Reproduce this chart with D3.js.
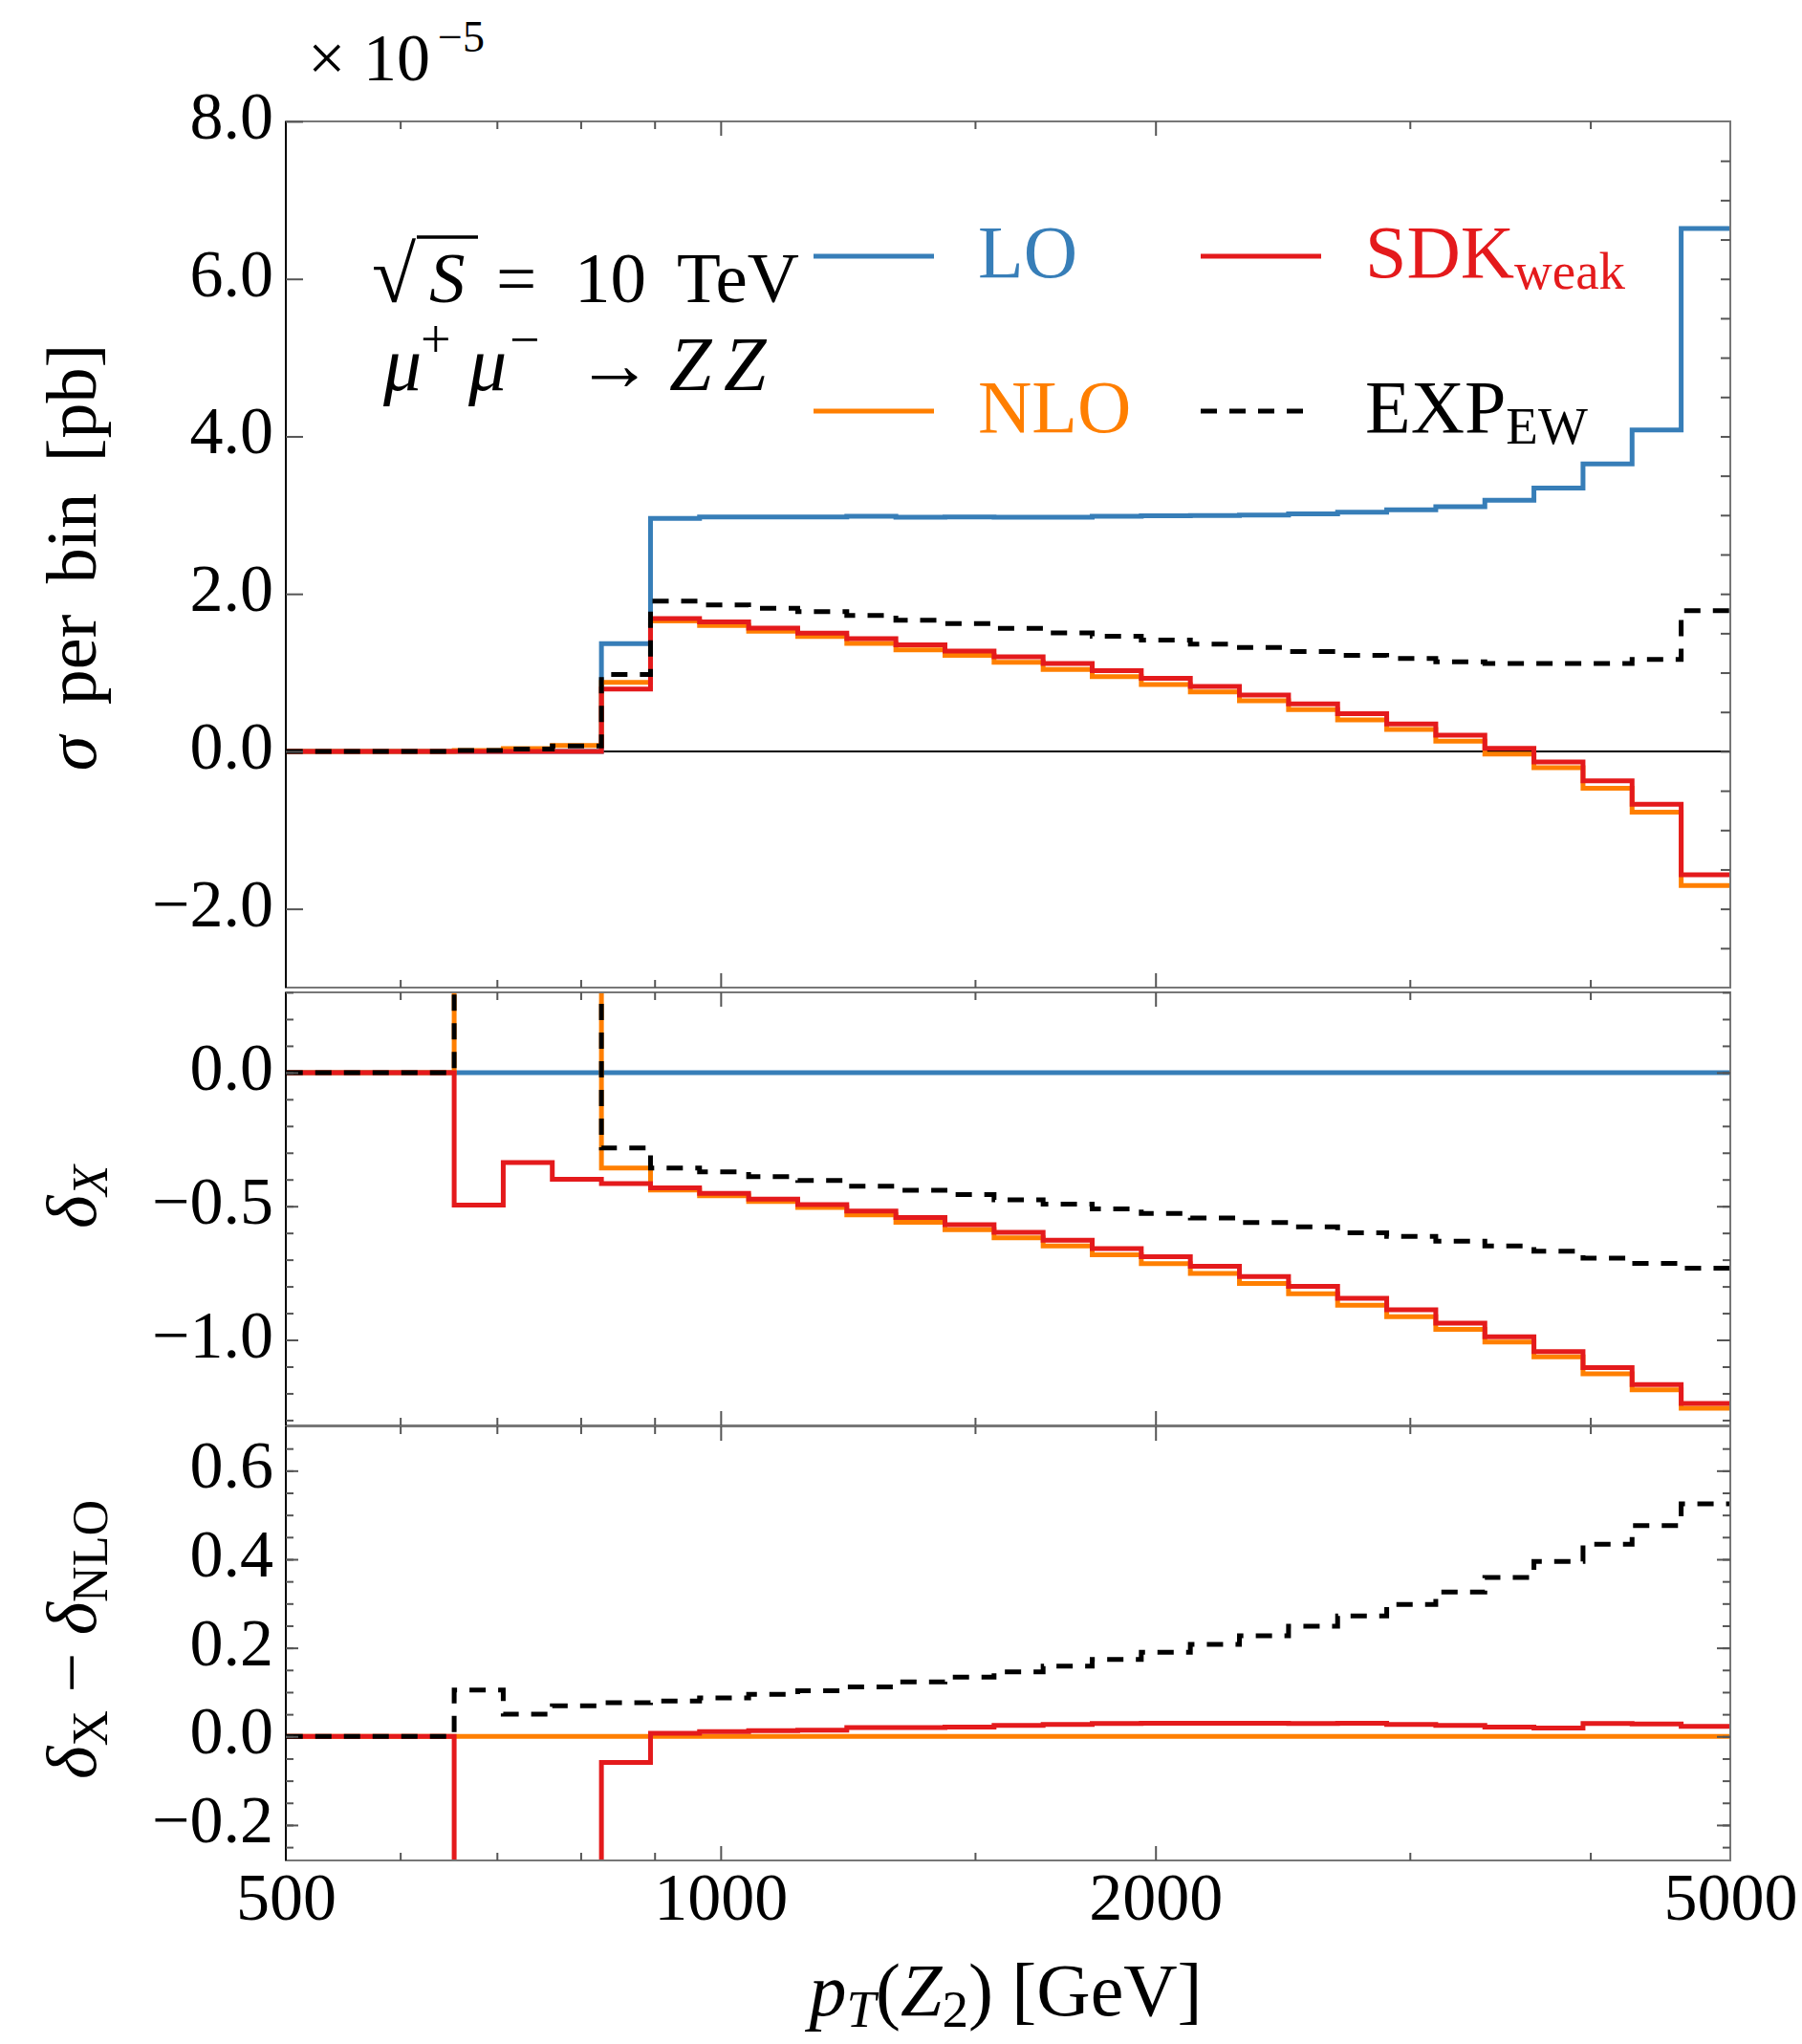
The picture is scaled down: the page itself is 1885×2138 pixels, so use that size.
<!DOCTYPE html>
<html>
<head>
<meta charset="utf-8">
<script src="https://cdn.jsdelivr.net/npm/d3@7"></script>
<style>
	body { margin: 0; background: #fff; }
	svg text { font-family: "Liberation Serif", "Times New Roman", serif; fill: #000; }
</style>
</head>
<body>
<svg width="1885" height="2138"></svg>
<script>
(function(){

	// bin edges [GeV], log bins, only the ones that show up between 500 and 5000
	var binEdges = [478.2, 517.1, 559.2, 604.7, 653.9, 707.1, 764.6, 826.9, 894.2, 966.9,
		1045.6, 1130.7, 1222.7, 1322.2, 1429.8, 1546.2, 1672.0, 1808.1, 1955.2, 2114.3,
		2286.4, 2472.5, 2673.7, 2891.3, 3126.6, 3381.0, 3656.1, 3953.7, 4275.4, 4623.3, 5000];

	// sigma per bin, in units of 1e-5 pb
	var sigmaLO  = [0, 0, 0, 0, 0, 0, 0, 1.367, 2.959, 2.976, 2.976, 2.976, 2.985, 2.972, 2.976,
		2.972, 2.972, 2.985, 2.993, 2.995, 3.002, 3.015, 3.037, 3.068, 3.106, 3.189, 3.345, 3.649, 4.080, 6.640];
	var sigmaNLO = [0, 0, 0, 0, 0.012, 0.035, 0.075, 0.876, 1.657, 1.600, 1.527, 1.458, 1.371, 1.289, 1.219,
		1.130, 1.041, 0.950, 0.850, 0.755, 0.642, 0.529, 0.399, 0.278, 0.130, -0.035, -0.208, -0.469, -0.772, -1.705];
	var sigmaSDK = [0, 0, 0, 0, 0, 0, 0, 0.790, 1.688, 1.644, 1.566, 1.501, 1.432, 1.354, 1.275,
		1.202, 1.115, 1.024, 0.928, 0.824, 0.716, 0.603, 0.477, 0.347, 0.204, 0.039, -0.134, -0.373, -0.672, -1.566];
	var sigmaEXP = [0, 0, 0, 0, 0.010, 0.030, 0.070, 0.976, 1.909, 1.861, 1.818, 1.774, 1.727, 1.666, 1.622,
		1.562, 1.505, 1.462, 1.414, 1.362, 1.319, 1.267, 1.219, 1.180, 1.137, 1.115, 1.115, 1.115, 1.167, 1.787];

	// delta_X (relative to LO); 10 = off the top of the panel
	var deltaLO  = [0, 0, 0, 0, 0, 0, 0, 0, 0, 0, 0, 0, 0, 0, 0,
		0, 0, 0, 0, 0, 0, 0, 0, 0, 0, 0, 0, 0, 0, 0];
	var deltaNLO = [0, 0, 0, 0, 10, 10, 10, -0.357, -0.439, -0.461, -0.482, -0.505, -0.532, -0.560, -0.588,
		-0.618, -0.649, -0.682, -0.715, -0.751, -0.789, -0.827, -0.870, -0.913, -0.961, -1.008, -1.063, -1.127, -1.187, -1.256];
	var deltaSDK = [0, 0, 0, 0, -0.496, -0.337, -0.399, -0.415, -0.431, -0.452, -0.473, -0.494, -0.518, -0.542, -0.569,
		-0.598, -0.627, -0.658, -0.689, -0.725, -0.763, -0.800, -0.844, -0.887, -0.937, -0.988, -1.044, -1.104, -1.167, -1.238];
	var deltaEXP = [0, 0, 0, 0, 10, 10, 10, -0.282, -0.357, -0.371, -0.389, -0.404, -0.425, -0.440, -0.456,
		-0.476, -0.492, -0.510, -0.527, -0.544, -0.561, -0.577, -0.599, -0.613, -0.631, -0.649, -0.668, -0.694, -0.714, -0.732];

	// delta_X - delta_NLO; -10 = off the bottom of the panel
	var diffNLO = [0, 0, 0, 0, 0, 0, 0, 0, 0, 0, 0, 0, 0, 0, 0,
		0, 0, 0, 0, 0, 0, 0, 0, 0, 0, 0, 0, 0, 0, 0];
	var diffSDK = [0, 0, 0, 0, -10, -10, -10, -0.059, 0.007, 0.011, 0.013, 0.014, 0.020, 0.020, 0.021,
		0.025, 0.027, 0.029, 0.030, 0.030, 0.030, 0.029, 0.030, 0.027, 0.025, 0.021, 0.019, 0.029, 0.028, 0.023];
	var diffEXP = [0, 0, 0, 0, 0.105, 0.050, 0.069, 0.076, 0.080, 0.087, 0.095, 0.103, 0.112, 0.123, 0.134,
		0.146, 0.159, 0.174, 0.190, 0.208, 0.227, 0.249, 0.272, 0.298, 0.326, 0.359, 0.395, 0.434, 0.476, 0.525];

	var xTickLabels = [500, 1000, 2000, 5000];
	var xMinorTicks = [600, 700, 800, 900, 1500, 3000, 4000];
	var xMajorTicks = [1000, 2000];
	var topTicks = [-2, 0, 2, 4, 6, 8];
	var midTicks = [-1, -0.5, 0];
	var botTicks = [-0.2, 0, 0.2, 0.4, 0.6];

	var colors = {LO: "#377eb8", NLO: "#ff7f00", SDK: "#e41a1c", EXP: "#000000"};
	var dash = "17,13";

	var svg = d3.select("svg"),
		left = 299, right = 1810;

	var x = d3.scaleLog().domain([500, 5000]).range([left, right]);

	function stepPoints(vals){
		var pts = vals.map(function(v, i){ return [binEdges[i], v]; });
		pts.push([binEdges[vals.length], vals[vals.length - 1]]);
		return pts;
	}

	var panels = [
		{id: "top", top: 127, bottom: 1033, domain: [-3, 8], ticks: topTicks, fmt: d3.format(".1f"),
			majorLen: 18, leftMinor: [], rightTicks: d3.range(-2.5, 8, 0.5), rightLen: 10, zeroLine: true,
			series: [
				{v: sigmaLO, c: colors.LO}, {v: sigmaNLO, c: colors.NLO},
				{v: sigmaSDK, c: colors.SDK}, {v: sigmaEXP, c: colors.EXP, dash: true}]},
		{id: "mid", top: 1038, bottom: 1491, domain: [-1.32, 0.3], ticks: midTicks, fmt: d3.format(".1f"),
			majorLen: 13, leftMinor: d3.range(-1.3, 0.31, 0.1), rightTicks: d3.range(-1.3, 0.31, 0.1), rightLen: 8,
			series: [
				{v: deltaLO, c: colors.LO}, {v: deltaNLO, c: colors.NLO},
				{v: deltaSDK, c: colors.SDK}, {v: deltaEXP, c: colors.EXP, dash: true}]},
		{id: "bot", top: 1492, bottom: 1946, domain: [-0.28, 0.7], ticks: botTicks, fmt: d3.format(".1f"),
			majorLen: 13, leftMinor: d3.range(-0.25, 0.7, 0.05), rightTicks: d3.range(-0.25, 0.7, 0.05), rightLen: 8,
			series: [
				{v: diffNLO, c: colors.NLO}, {v: diffSDK, c: colors.SDK},
				{v: diffEXP, c: colors.EXP, dash: true}]}
	];

	panels.forEach(function(p){
		var y = d3.scaleLinear().domain(p.domain).range([p.bottom, p.top]);
		var g = svg.append("g");

		svg.append("clipPath").attr("id", "clip-" + p.id)
			.append("rect")
				.attr("x", left).attr("y", p.top)
				.attr("width", right - left).attr("height", p.bottom - p.top);

		if(p.zeroLine){
			g.append("line")
				.attr("x1", left).attr("x2", right)
				.attr("y1", y(0)).attr("y2", y(0))
				.attr("stroke", "#000").attr("stroke-width", 2);
		}

		var line = d3.line()
			.x(function(d){ return x(d[0]); })
			.y(function(d){ return y(d[1]); })
			.curve(d3.curveStepAfter);

		g.selectAll(".step")
			.data(p.series)
			.enter().append("path")
				.attr("class", "step")
				.attr("clip-path", "url(#clip-" + p.id + ")")
				.attr("d", function(s){ return line(stepPoints(s.v)); })
				.attr("fill", "none")
				.attr("stroke", function(s){ return s.c; })
				.attr("stroke-width", 5)
				.attr("stroke-dasharray", function(s){ return s.dash ? dash : null; });

		// frame
		g.append("rect")
			.attr("x", left).attr("y", p.top)
			.attr("width", right - left).attr("height", p.bottom - p.top)
			.attr("fill", "none").attr("stroke", "#777").attr("stroke-width", 2);
		g.append("line")
			.attr("x1", left).attr("x2", left).attr("y1", p.top).attr("y2", p.bottom)
			.attr("stroke", "#000").attr("stroke-width", 2);

		// left ticks + labels
		var ax = g.append("g")
			.attr("transform", "translate(" + left + ",0)")
			.call(d3.axisLeft(y).tickValues(p.ticks).tickSize(-p.majorLen).tickPadding(13).tickFormat(p.fmt));
		ax.select(".domain").remove();
		ax.selectAll("line").attr("stroke", "#555").attr("stroke-width", 2);
		ax.selectAll("text")
			.attr("dy", "0.25em")
			.style("font-size", "70px")
			.style("font-family", "Liberation Serif");

		var axm = g.append("g")
			.attr("transform", "translate(" + left + ",0)")
			.call(d3.axisLeft(y).tickValues(p.leftMinor).tickSize(-8).tickFormat(""));
		axm.select(".domain").remove();
		axm.selectAll("line").attr("stroke", "#555").attr("stroke-width", 2);

		// right ticks
		var axr = g.append("g")
			.attr("transform", "translate(" + right + ",0)")
			.call(d3.axisRight(y).tickValues(p.rightTicks).tickSize(-p.rightLen).tickFormat(""));
		axr.select(".domain").remove();
		axr.selectAll("line").attr("stroke", "#555").attr("stroke-width", 2);
		if(p.id !== "top"){
			var axr2 = g.append("g")
				.attr("transform", "translate(" + right + ",0)")
				.call(d3.axisRight(y).tickValues(p.ticks).tickSize(-14).tickFormat(""));
			axr2.select(".domain").remove();
			axr2.selectAll("line").attr("stroke", "#555").attr("stroke-width", 2);
		}

		// x ticks on the top and bottom edge of every panel
		[[p.top, d3.axisTop], [p.bottom, d3.axisBottom]].forEach(function(e){
			[[xMinorTicks, 8], [xMajorTicks, 15]].forEach(function(t){
				var a = g.append("g")
					.attr("transform", "translate(0," + e[0] + ")")
					.call(e[1](x).tickValues(t[0]).tickSize(-t[1]).tickFormat(""));
				a.select(".domain").remove();
				a.selectAll("line").attr("stroke", "#555").attr("stroke-width", 2);
			});
		});
	});

	// x tick labels under the last panel
	var xb = svg.append("g")
		.attr("transform", "translate(0," + panels[2].bottom + ")")
		.call(d3.axisBottom(x).tickValues(xTickLabels).tickSize(0).tickPadding(12).tickFormat(d3.format("d")));
	xb.select(".domain").remove();
	xb.selectAll("text").style("font-size", "70px").style("font-family", "Liberation Serif");

	// exponent
	var ex = svg.append("text").attr("y", 84).style("font-size", "70px");
	ex.append("tspan").attr("x", 322).text("×");
	ex.append("tspan").attr("x", 380).text("10");
	ex.append("tspan").attr("x", 458).attr("y", 54).style("font-size", "46px").text("−5");

	// process annotation
	var a1 = svg.append("text").attr("y", 316).style("font-size", "75px");
	a1.append("tspan").attr("x", 389).style("font-size", "84px").text("√");
	a1.append("tspan").attr("x", 449).style("font-style", "italic").text("S");
	a1.append("tspan").attr("x", 519).text("=");
	a1.append("tspan").attr("x", 601).text("10");
	a1.append("tspan").attr("x", 708).text("TeV");
	svg.append("line")
		.attr("x1", 436).attr("x2", 500).attr("y1", 248).attr("y2", 248)
		.attr("stroke", "#000").attr("stroke-width", 3.5);

	var a2 = svg.append("text").attr("y", 408).style("font-size", "80px");
	a2.append("tspan").attr("x", 401).style("font-style", "italic").text("μ");
	a2.append("tspan").attr("x", 440).attr("y", 374).style("font-size", "56px").text("+");
	a2.append("tspan").attr("x", 490).attr("y", 408).style("font-style", "italic").text("μ");
	a2.append("tspan").attr("x", 533).attr("y", 374).style("font-size", "56px").text("−");
	a2.append("tspan").attr("x", 603).attr("y", 408).text("→");
	a2.append("tspan").attr("x", 700).style("font-style", "italic").text("Z");
	a2.append("tspan").attr("x", 757).style("font-style", "italic").text("Z");

	// legend
	var legendNames = ["LO", "NLO", "SDK", "EXP"];
	var legendSubs = ["", "", "weak", "EW"];
	var legendPos = [[851, 268], [851, 430], [1256, 268], [1256, 430]];
	legendNames.forEach(function(n, i){
		var px = legendPos[i][0], py = legendPos[i][1];
		svg.append("line")
			.attr("x1", px).attr("x2", px + (n === "EXP" ? 118 : 126))
			.attr("y1", py).attr("y2", py)
			.attr("stroke", colors[n]).attr("stroke-width", 5)
			.attr("stroke-dasharray", n === "EXP" ? dash : null);
		var t = svg.append("text")
			.attr("x", px + 172).attr("y", py + 22)
			.style("font-size", "78px")
			.style("fill", colors[n]);
		t.append("tspan").text(n);
		if(legendSubs[i]){
			t.append("tspan").attr("dy", 12).style("font-size", "55px").text(legendSubs[i]);
		}
	});

	// axis titles
	var yl1 = svg.append("text")
		.attr("transform", "translate(100,583) rotate(-90)")
		.attr("text-anchor", "middle")
		.style("font-size", "74px")
		.style("word-spacing", "14px");
	yl1.append("tspan").style("font-style", "italic").text("σ");
	yl1.append("tspan").text(" per bin [pb]");

	var yl2 = svg.append("text")
		.attr("transform", "translate(100,1252) rotate(-90)")
		.attr("text-anchor", "middle")
		.style("font-size", "74px");
	yl2.append("tspan").style("font-style", "italic").text("δ");
	yl2.append("tspan").attr("dy", 12).style("font-size", "52px").style("font-style", "italic").text("X");

	var yl3 = svg.append("text")
		.attr("transform", "translate(100,1715) rotate(-90)")
		.attr("text-anchor", "middle")
		.style("font-size", "74px");
	yl3.append("tspan").style("font-style", "italic").text("δ");
	yl3.append("tspan").attr("dy", 12).style("font-size", "52px").text("X");
	yl3.append("tspan").attr("dy", -12).text(" − ");
	yl3.append("tspan").style("font-style", "italic").text("δ");
	yl3.append("tspan").attr("dy", 12).style("font-size", "52px").text("NLO");

	var xl = svg.append("text")
		.attr("x", 1052).attr("y", 2108)
		.attr("text-anchor", "middle")
		.style("font-size", "78px");
	xl.append("tspan").style("font-style", "italic").text("p");
	xl.append("tspan").attr("dy", 12).style("font-size", "55px").style("font-style", "italic").text("T");
	xl.append("tspan").attr("dy", -12).text("(");
	xl.append("tspan").style("font-style", "italic").text("Z");
	xl.append("tspan").attr("dy", 12).style("font-size", "55px").text("2");
	xl.append("tspan").attr("dy", -12).text(")  [GeV]");

})();
</script>
</body>
</html>
